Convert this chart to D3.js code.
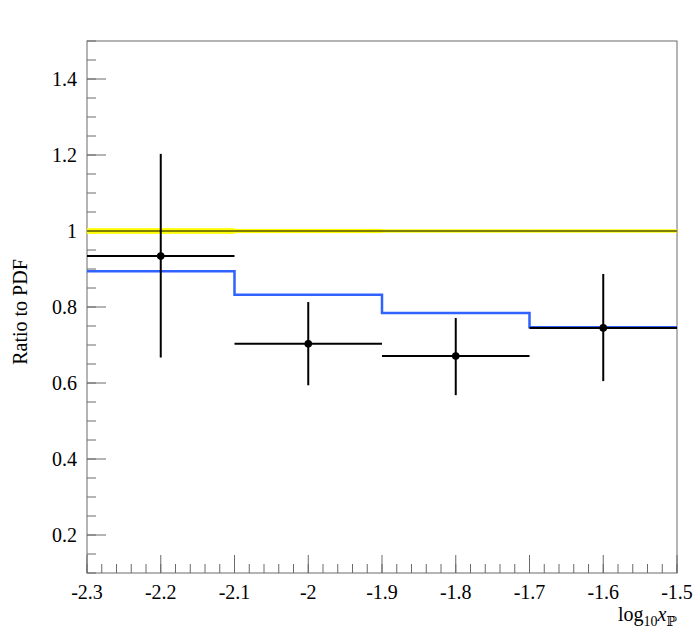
<!DOCTYPE html>
<html>
<head>
<meta charset="utf-8">
<style>
  body { margin: 0; background: #fff; }
  text { font-family: "Liberation Serif", "DejaVu Serif", serif; fill: #000; }
</style>
</head>
<body>
<script src="https://cdnjs.cloudflare.com/ajax/libs/d3/7.8.5/d3.min.js"></script>
<script>
  // bin edges and centres in log10 x_P
  const binEdges = [-2.3, -2.1, -1.9, -1.7, -1.5]
  const pointX = [-2.2, -2.0, -1.8, -1.6]
  const pointXErr = [0.1, 0.1, 0.1, 0.1]

  // data / PDF ratio with error bars
  const ratio = [0.934, 0.703, 0.671, 0.745]
  const ratioHigh = [1.203, 0.813, 0.771, 0.887]
  const ratioLow = [0.667, 0.594, 0.568, 0.605]

  // blue model histogram
  const model = [0.894, 0.832, 0.784, 0.747]

  // PDF uncertainty band around 1
  const pdfBand = [0.0075, 0.0055, 0.0045, 0.0045]

  const xTicks = [-2.3, -2.2, -2.1, -2, -1.9, -1.8, -1.7, -1.6, -1.5]
  const yTicks = [0.2, 0.4, 0.6, 0.8, 1, 1.2, 1.4]

  const W = 700, H = 632
  const m = { top: 41, right: 23, bottom: 59, left: 87 }

  const svg = d3.select('body').append('svg')
    .attr('width', W)
    .attr('height', H)

  const x = d3.scaleLinear().domain([-2.3, -1.5]).range([m.left, W - m.right])
  const y = d3.scaleLinear().domain([0.1, 1.5]).range([H - m.bottom, m.top])

  const axisCol = '#6a6a6a'

  // frame
  svg.append('rect')
    .attr('x', x(-2.3)).attr('y', y(1.5))
    .attr('width', x(-1.5) - x(-2.3)).attr('height', y(0.1) - y(1.5))
    .attr('fill', 'none').attr('stroke', axisCol).attr('stroke-width', 1)

  // x axis ticks (inside)
  const xMinor = d3.range(0, 41).map(i => -2.3 + i * 0.02)
  const xAxis = svg.append('g').attr('transform', `translate(0,${y(0.1)})`)
  xAxis.selectAll('line.minor').data(xMinor).enter().append('line')
    .attr('x1', d => x(d)).attr('x2', d => x(d))
    .attr('y1', 0).attr('y2', -9)
    .attr('stroke', axisCol)
  xAxis.selectAll('line.major').data(xTicks).enter().append('line')
    .attr('x1', d => x(d)).attr('x2', d => x(d))
    .attr('y1', 0).attr('y2', -18)
    .attr('stroke', axisCol)
  xAxis.selectAll('text').data(xTicks).enter().append('text')
    .attr('x', d => x(d)).attr('y', 26)
    .attr('text-anchor', 'middle')
    .style('font-size', '20px')
    .text(d => String(d))

  // y axis ticks (inside)
  const yMinor = d3.range(0, 29).map(i => 0.1 + i * 0.05)
  const yAxis = svg.append('g').attr('transform', `translate(${x(-2.3)},0)`)
  yAxis.selectAll('line.minor').data(yMinor).enter().append('line')
    .attr('y1', d => y(d)).attr('y2', d => y(d))
    .attr('x1', 0).attr('x2', 9)
    .attr('stroke', axisCol)
  yAxis.selectAll('line.major').data(yTicks).enter().append('line')
    .attr('y1', d => y(d)).attr('y2', d => y(d))
    .attr('x1', 0).attr('x2', 19)
    .attr('stroke', axisCol)
  yAxis.selectAll('text').data(yTicks).enter().append('text')
    .attr('x', -10).attr('y', d => y(d))
    .attr('dy', '0.35em')
    .attr('text-anchor', 'end')
    .style('font-size', '20px')
    .text(d => String(d))

  // axis titles
  svg.append('text')
    .attr('transform', 'translate(27,312) rotate(-90)')
    .attr('text-anchor', 'middle')
    .style('font-size', '20px')
    .text('Ratio to PDF')

  const xt = svg.append('text')
    .attr('x', x(-1.5)).attr('y', 621)
    .attr('text-anchor', 'end')
    .style('font-size', '20px')
  xt.append('tspan').text('log')
  xt.append('tspan').attr('dy', 5).style('font-size', '14px').text('10')
  xt.append('tspan').attr('dy', -5).style('font-style', 'italic').text('x')
  xt.append('tspan').attr('dy', 5).style('font-size', '14px').text('ℙ')

  // PDF uncertainty band
  const bins = d3.range(pdfBand.length)
  svg.append('g').selectAll('rect').data(bins).enter().append('rect')
    .attr('x', i => x(binEdges[i]))
    .attr('width', i => x(binEdges[i + 1]) - x(binEdges[i]))
    .attr('y', i => y(1 + pdfBand[i]))
    .attr('height', i => y(1 - pdfBand[i]) - y(1 + pdfBand[i]))
    .attr('fill', '#ffff00')
  svg.append('line')
    .attr('x1', x(-2.3)).attr('x2', x(-1.5))
    .attr('y1', y(1)).attr('y2', y(1))
    .attr('stroke', '#000').attr('stroke-width', 1)

  // model step histogram
  const stepPts = []
  model.forEach((v, i) => {
    stepPts.push([binEdges[i], v])
    stepPts.push([binEdges[i + 1], v])
  })
  svg.append('path')
    .datum(stepPts)
    .attr('fill', 'none')
    .attr('stroke', '#2f62ff')
    .attr('stroke-width', 2.5)
    .attr('d', d3.line().x(d => x(d[0])).y(d => y(d[1])))

  // data points with errors
  const pts = svg.append('g')
  pts.selectAll('line.xe').data(bins).enter().append('line')
    .attr('x1', i => x(pointX[i] - pointXErr[i]))
    .attr('x2', i => x(pointX[i] + pointXErr[i]))
    .attr('y1', i => y(ratio[i])).attr('y2', i => y(ratio[i]))
    .attr('stroke', '#000').attr('stroke-width', 2)
  pts.selectAll('line.ye').data(bins).enter().append('line')
    .attr('x1', i => x(pointX[i])).attr('x2', i => x(pointX[i]))
    .attr('y1', i => y(ratioHigh[i])).attr('y2', i => y(ratioLow[i]))
    .attr('stroke', '#000').attr('stroke-width', 2)
  pts.selectAll('circle').data(bins).enter().append('circle')
    .attr('cx', i => x(pointX[i])).attr('cy', i => y(ratio[i]))
    .attr('r', 3.8)
    .attr('fill', '#000')
</script>
</body>
</html>
